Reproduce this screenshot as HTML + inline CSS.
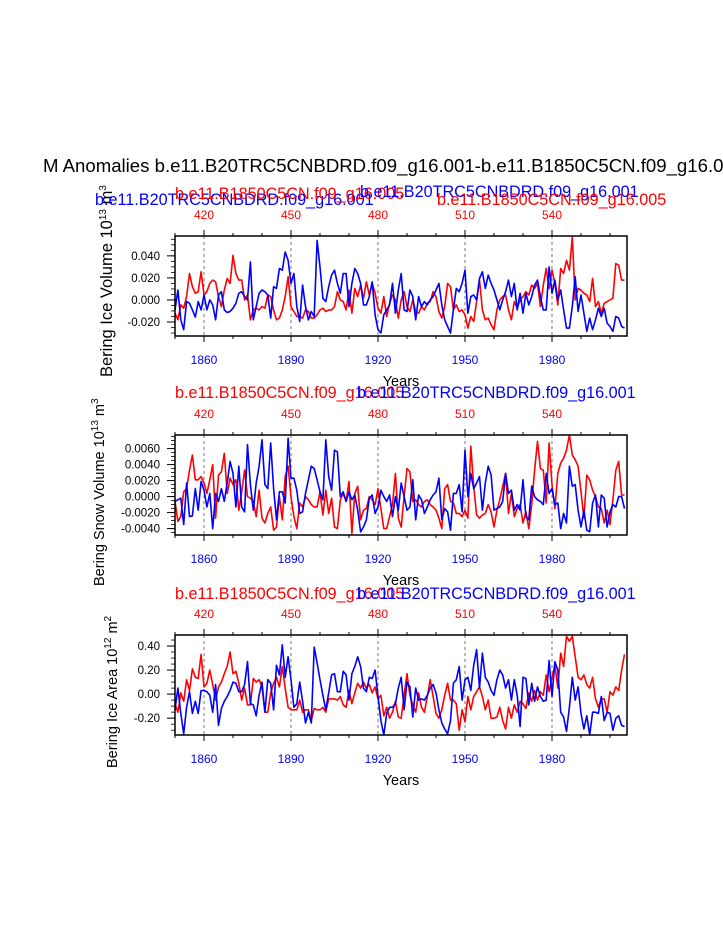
<!DOCTYPE html>
<html><head><meta charset="utf-8"><style>
body{margin:0;background:#fff;}
svg{display:block;font-family:"Liberation Sans",sans-serif;}
</style></head><body>
<svg id="fig" width="723" height="935" viewBox="0 0 723 935">
<text x="43" y="172" font-size="18.6" fill="#000">M Anomalies b.e11.B20TRC5CNBDRD.f09_g16.001-b.e11.B1850C5CN.f09_g16.0</text>
</svg>
<script>
const years = []; for (let y = 1850; y <= 2005; y++) years.push(y);
const bottomTicks = [1860, 1890, 1920, 1950, 1980];
const topTicks = [420, 450, 480, 510, 540];
// panel 1: ice volume (x 0.001 of 10^13 m^3)
const iceVolBlue = [-9,9,-18,-27,-1.5,-3,-9,-15.6,-1.5,-9,4.5,-9,0,-4.5,-18,4.5,7.5,-9,-11.4,-10.5,-7.5,-3,6,7.5,3,0,34.5,-18,-6,6,9,7.5,4.5,-16.5,12,10.5,28.5,27,43.5,36,15,24,-6,-19.5,13.5,-6,-18,-10.5,-15,54,30,1.5,-1.5,12,22.5,27,15,6,24,24,-6,15,28.5,24,15,-4.5,-4.5,3,16.5,-13.5,-27,-30,-13.5,-9,-4.5,15,
-12,9,24,-9,-10.5,9,3,-18,3,-6,-1.5,-4.5,0,3,9,15,-4.5,-18,-24,-30,-9,10.5,7.5,15,27,-12,3,4.5,0,19.5,25.5,10.5,22.5,15,9,0,-9,0,7.5,18,3,15,-9,6,-12,6,-4.5,3,13.5,18,3,-9,-9,30,6,18,0,9,-9,-25.5,-25.5,-6,21,-10.5,4.5,-12,-28.5,-16.5,-27,-18,-7.5,-15,-7.5,-21,-24,-28.5,-15,-16.5,-24,-25.5];
const iceVolRed = [-12,-18,-4.5,-7.5,3,24,12,6,7.5,25.5,4.5,7.5,15,18,16.5,3,-6,9,19.5,15,40.5,24,18,18,0,4.5,-18,-9,-7.5,-9,-6,-7.5,4.5,3,-9,-18,-16.5,-9,3,21,-6,-10.5,-15,-15,-16.5,-9,-10.5,-16.5,-16.5,-13.5,-9,-7.5,-10.5,-9,-9,-6,7.5,0,-1.5,-9,9,-12,10.5,3,13.5,1.5,16.5,4.5,15,6,-7.5,-12,3,-15,-3,4.5,
0,-16.5,0,7.5,-6,-10.5,0,-10.5,-12,-6,-9,-3,-1.5,7.5,3,-10.5,-16.5,-6,15,12,-9,-4.5,-10.5,-9,-13.5,-25.5,-15,-19.5,-1.5,18,-9,-18,-16.5,-22.5,-27,-9,0,3,4.5,-9,-18,-1.5,-7.5,0,3,7.5,4.5,13.5,10.5,15,-6,13.5,28.5,10.5,27,15,-4.5,28.5,24,36,27,57,0,10.5,9,6,4.5,-1.5,19.5,-6,-1.5,-12,-3,-1.5,0,1.5,33,31.5,18,18];
// panel 2: snow volume (x 0.0001 of 10^13 m^3)
const snowVolBlue = [-6,-4,-2,-35,17,-25,-24,10,-17,19,8,-13,4,-40,4,-6,10,-6,17,44,29,-13,38,-13,-19,65,15,-17,17,38,71,15,10,67,10,-29,6,6,-8,73,23,23,8,-21,-19,4,21,38,35,21,6,-4,71,25,8,58,56,0,6,-6,6,-4,2,-17,-44,-38,-29,-2,2,-21,-13,8,0,-6,2,-25,
0,-17,17,0,-17,-13,21,-29,2,-4,-21,-13,-4,2,6,23,-29,-15,-19,-42,4,4,15,-19,58,0,29,10,17,25,-17,17,38,27,-17,-15,-13,-6,29,4,8,-17,-10,-17,21,-25,-29,13,0,-4,-6,-10,29,4,10,-10,-8,-40,-21,-33,38,13,15,-17,-38,-17,-42,-44,-8,2,-38,2,-2,-38,-19,-10,-13,0,0,-15];
const snowVolRed = [-6,-31,-25,6,10,33,52,21,21,25,17,4,21,40,-27,27,31,54,4,23,15,21,-17,6,33,0,-2,-6,-25,8,-27,-33,-21,-13,-42,-38,0,-29,25,38,0,-25,-40,-8,-13,0,-4,-10,-13,-13,6,-23,8,-21,-2,-38,-40,-4,4,-6,19,-46,4,13,-29,-17,-15,0,-4,-10,10,-15,-40,-40,-25,-10,
29,-27,-38,0,35,31,-6,-4,-10,-13,-6,-4,-10,-13,-17,-27,-40,10,15,-6,-8,-21,-21,-25,-17,-27,63,13,-23,-27,-23,-21,-10,-19,-38,-17,-4,13,29,-21,4,-25,-15,-10,-33,-19,-40,-10,33,69,35,33,-8,67,15,-15,29,42,48,58,77,52,46,38,6,-27,27,21,8,0,-13,-15,-33,-17,-35,-4,33,44,2,2];
// panel 3: ice area (x 0.01 of 10^12 m^2)
const iceAreaBlue = [-13,5,-16,-33,-11,2,-16,-6,-16,3,3,2,-1,-15,8,-26,-12,-6,-2,3,10,9,2,2,8,27,-8,-9,-18,-1,10,-15,12,9,-13,24,16,41,14,31,12,-11,-8,10,-6,-24,-15,-24,39,26,12,-1,-13,1,16,17,2,2,19,16,-5,17,23,31,23,5,2,14,13,20,-2,-22,-34,-16,-11,-11,
-8,5,14,-13,10,6,-19,5,-5,-4,-5,-1,5,8,1,-13,-24,-29,-33,-22,9,12,23,-5,12,14,3,24,37,5,34,14,10,3,-1,12,20,16,5,12,-5,12,-1,-27,14,13,-9,9,-6,6,-2,-6,-5,28,-2,27,20,-15,-19,-31,-11,14,-5,6,-16,-29,-18,-34,-15,-15,-16,-2,-22,-15,-16,-30,-20,-18,-26,-27];
const iceAreaRed = [-8,-15,1,-6,12,3,21,14,13,33,6,9,20,8,-5,6,10,17,23,35,17,19,9,-5,5,-9,-9,13,10,12,6,-15,-15,1,9,14,6,23,5,-11,-13,-13,-13,-5,-15,-13,-13,-22,-12,-13,-13,-11,-15,-4,-4,-4,-5,-2,-9,-11,3,-8,1,9,5,10,5,8,1,6,-4,-1,-18,-11,-20,-15,
-6,-19,-20,-1,17,-1,-9,-15,1,-11,-15,-2,12,-2,-16,-20,-13,-1,9,-5,-5,-8,-30,-13,-23,-2,-13,-2,2,6,-2,-13,-5,-20,-20,-19,-11,-22,-29,-11,-20,-9,-15,-6,-8,-12,1,-6,3,-5,2,-1,16,2,14,24,5,34,23,48,44,48,31,14,12,16,8,5,14,-4,-11,-4,-4,-15,2,-1,6,3,20,33];

const NS = 'http://www.w3.org/2000/svg';
const svg = document.getElementById('fig');
const X0 = 175, X1 = 627;
function xScale(yr){ return X0 + (yr - 1850) * 2.9; }
function xTop(v){ return xScale(v + 1440); }
function mk(tag, attrs, parent){
  const e = document.createElementNS(NS, tag);
  for (const k in attrs) e.setAttribute(k, attrs[k]);
  (parent || svg).appendChild(e); return e;
}
const BLUE = '#0000ff', RED = '#ff0000';

const panels = [
  {name:'ice-volume', top:236, bot:336, vmin:-0.0327, vmax:0.058, unit:0.001, blue:iceVolBlue, red:iceVolRed,
   yTicks:[0.04,0.02,0,-0.02], yLabels:['0.040','0.020','0.000','-0.020'], minor:0.005,
   ytitle:['Bering Ice Volume 10','13',' m','3'], ytx:112, ybot:377, yfs:16.5,
   labels:[{t:'b.e11.B20TRC5CNBDRD.f09_g16.001',x:95,y:205,c:BLUE},{t:'b.e11.B1850C5CN.f09_g16.005',x:175,y:199,c:RED},
           {t:'b.e11.B20TRC5CNBDRD.f09_g16.001',x:360,y:197,c:BLUE},{t:'b.e11.B1850C5CN.f09_g16.005',x:437,y:205,c:RED}]},
  {name:'snow-volume', top:435, bot:535, vmin:-0.0048, vmax:0.0077, unit:0.0001, blue:snowVolBlue, red:snowVolRed,
   yTicks:[0.006,0.004,0.002,0,-0.002,-0.004], yLabels:['0.0060','0.0040','0.0020','0.0000','-0.0020','-0.0040'], minor:0.0005,
   ytitle:['Bering Snow Volume 10','13',' m','3'], ytx:104, ybot:586, yfs:14.5,
   labels:[{t:'b.e11.B1850C5CN.f09_g16.005',x:175,y:398,c:RED},{t:'b.e11.B20TRC5CNBDRD.f09_g16.001',x:357,y:398,c:BLUE}]},
  {name:'ice-area', top:635, bot:735, vmin:-0.34, vmax:0.4917, unit:0.01, blue:iceAreaBlue, red:iceAreaRed,
   yTicks:[0.4,0.2,0,-0.2], yLabels:['0.40','0.20','0.00','-0.20'], minor:0.05,
   ytitle:['Bering Ice Area 10','12',' m','2'], ytx:117, ybot:768, yfs:14.5,
   labels:[{t:'b.e11.B1850C5CN.f09_g16.005',x:175,y:599,c:RED},{t:'b.e11.B20TRC5CNBDRD.f09_g16.001',x:357,y:599,c:BLUE}]}
];

panels.forEach(p => {
  const g = mk('g', {});
  
  
  const yS = v => p.bot - (v - p.vmin) / (p.vmax - p.vmin) * (p.bot - p.top);
  bottomTicks.forEach(t => {
    const l = mk('line', {x1:xScale(t), x2:xScale(t), y1:p.top, y2:p.bot, stroke:'#555', 'stroke-width':0.8, 'stroke-dasharray':'3,3'}, g);
    
    
  });
  [['red', p.red, RED], ['blue', p.blue, BLUE]].forEach(([nm, arr, col]) => {
    const pts = arr.map((v, i) => xScale(years[i]).toFixed(1) + ',' + yS(v * p.unit).toFixed(1)).join(' ');
    const pl = mk('polyline', {points:pts, fill:'none', stroke:col, 'stroke-width':1.6, 'stroke-linejoin':'round'}, g);
    
    
  });
  const fr = mk('rect', {x:X0, y:p.top, width:X1-X0, height:p.bot-p.top, fill:'none', stroke:'#000', 'stroke-width':1.5}, g);
  
  
  for (let v = Math.ceil(p.vmin / p.minor) * p.minor; v <= p.vmax; v += p.minor) {
    mk('line', {x1:X0-4, x2:X0, y1:yS(v), y2:yS(v), stroke:'#000', 'stroke-width':0.8}, g);
  }
  p.yTicks.forEach((v, i) => {
    mk('line', {x1:X0-8, x2:X0, y1:yS(v), y2:yS(v), stroke:'#000', 'stroke-width':1}, g);
    const t = mk('text', {x:X0-15, y:yS(v)+4, 'font-size':11.5, 'text-anchor':'end'}, g);
    t.textContent = p.yLabels[i];
    
    
  });
  for (let yr = 1850; yr <= 2005; yr += 10) {
    const major = bottomTicks.includes(yr);
    mk('line', {x1:xScale(yr), x2:xScale(yr), y1:p.bot, y2:p.bot + (major ? 6 : 3), stroke:'#000', 'stroke-width':1}, g);
  }
  bottomTicks.forEach(t => {
    const tx = mk('text', {x:xScale(t), y:p.bot+28, 'font-size':12, fill:BLUE, 'text-anchor':'middle'}, g);
    tx.textContent = t;
    
    
  });
  for (let v = 410; v <= 565; v += 10) {
    const major = topTicks.includes(v);
    mk('line', {x1:xTop(v), x2:xTop(v), y1:p.top, y2:p.top - (major ? 6 : 3), stroke:'#000', 'stroke-width':1}, g);
  }
  topTicks.forEach(t => {
    const tx = mk('text', {x:xTop(t), y:p.top-17, 'font-size':12, fill:RED, 'text-anchor':'middle'}, g);
    tx.textContent = t;
    
    
  });
  const xt = mk('text', {x:401, y:p.bot+50, 'font-size':14.5, 'text-anchor':'middle'}, g);
  xt.textContent = 'Years';
  
  
  const yt = mk('text', {x:0, y:0, 'font-size':p.yfs, 'text-anchor':'start', transform:`translate(${p.ytx},${p.ybot}) rotate(-90)`}, g);
  
  
  const parts = p.ytitle;
  const s1 = mk('tspan', {}, yt); s1.textContent = parts[0];
  const s2 = mk('tspan', {dy:-6, 'font-size':10}, yt); s2.textContent = parts[1];
  const s3 = mk('tspan', {dy:6}, yt); s3.textContent = parts[2];
  const s4 = mk('tspan', {dy:-6, 'font-size':10}, yt); s4.textContent = parts[3];
  p.labels.forEach(l => {
    const t = mk('text', {x:l.x, y:l.y, 'font-size':16.2, fill:l.c}, g);
    t.textContent = l.t;
    
    
  });
});
</script>
</body></html>
